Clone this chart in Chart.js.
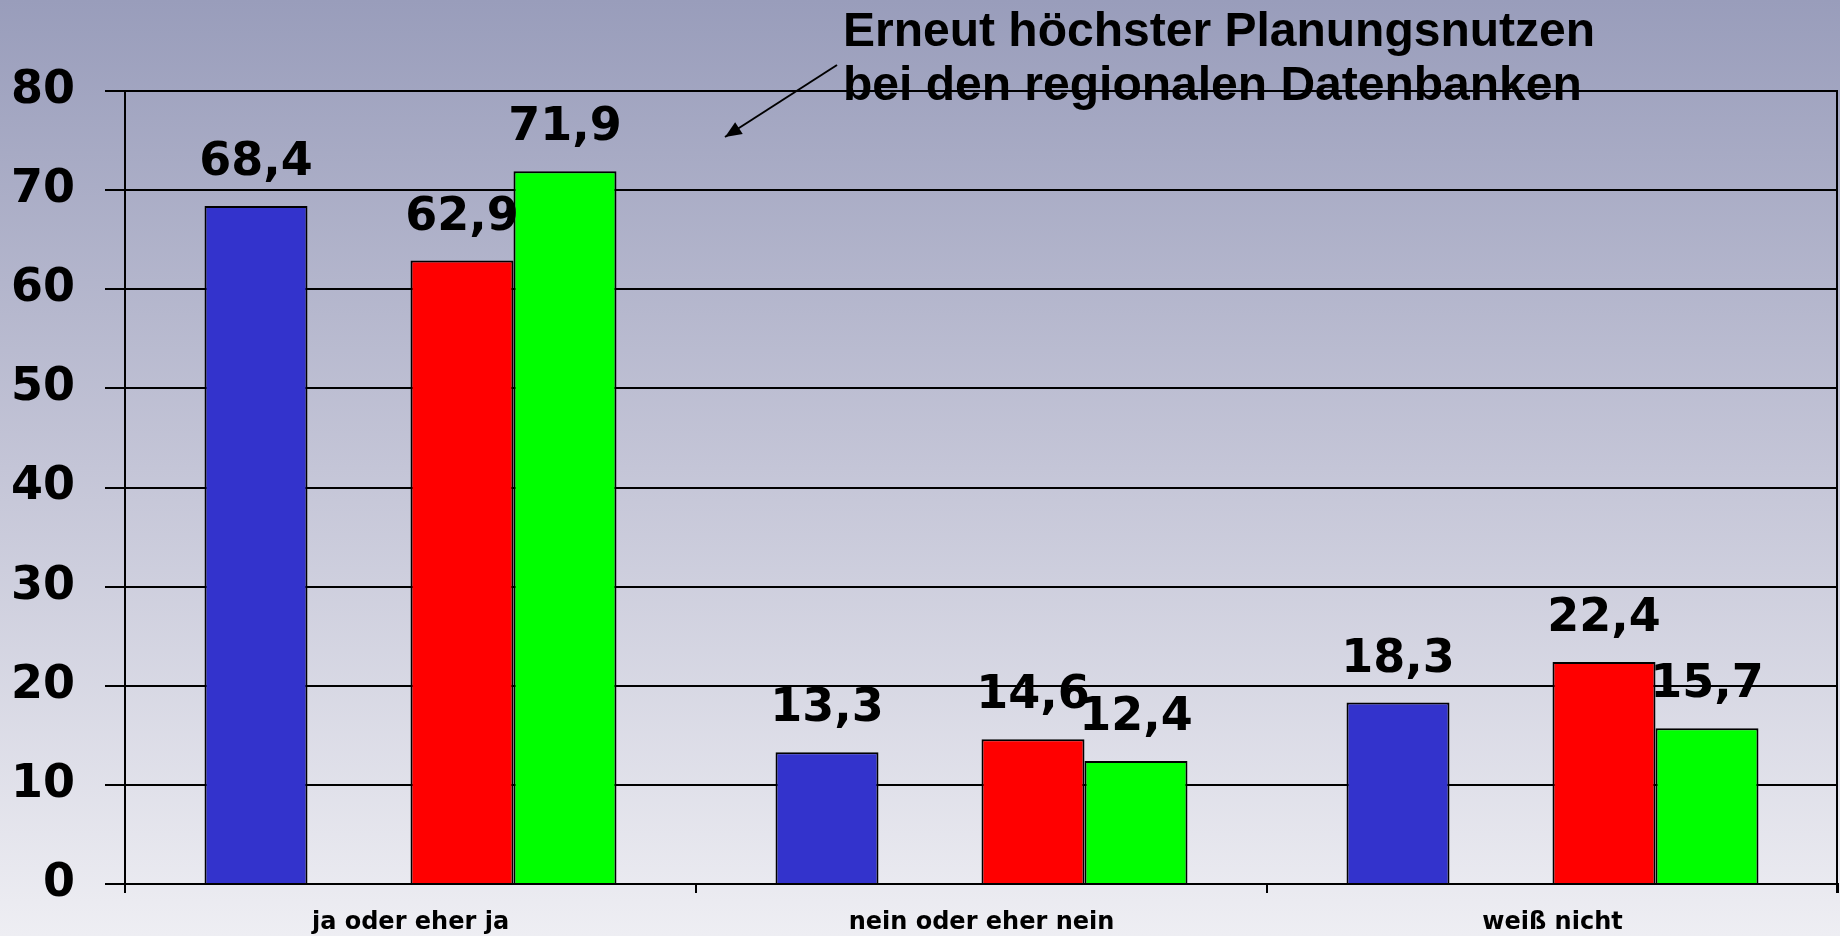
<!DOCTYPE html>
<html>
<head>
<meta charset="utf-8">
<title>Planungsnutzen</title>
<script src="https://cdn.jsdelivr.net/npm/chart.js@4"></script>
<style>
    html, body { margin: 0; padding: 0; background: #ededf2; }
    #wrap { width: 1840px; height: 936px; }
</style>
</head>
<body>
<div id="wrap"><canvas id="barChart" width="1840" height="936"></canvas></div>
<script>
const categories = ['ja oder eher ja', 'nein oder eher nein', 'weiß nicht'];
const seriesBlue = [68.4, 13.3, 18.3];
const seriesEmpty = [null, null, null];
const seriesRed = [62.9, 14.6, 22.4];
const seriesGreen = [71.9, 12.4, 15.7];
const yTicks = [0, 10, 20, 30, 40, 50, 60, 70, 80];
const noteLines = ['Erneut höchster Planungsnutzen', 'bei den regionalen Datenbanken'];

function formatValue(v) {
    return v.toFixed(1).replace('.', ',');
}

// background gradient behind everything
const backgroundPlugin = {
    id: 'background',
    beforeDraw(chart) {
        const ctx = chart.ctx;
        const g = ctx.createLinearGradient(0, 0, 0, chart.height);
        g.addColorStop(0, '#999dbb');
        g.addColorStop(0.5, '#c4c5d7');
        g.addColorStop(1, '#eeeef3');
        ctx.save();
        ctx.fillStyle = g;
        ctx.fillRect(0, 0, chart.width, chart.height);
        ctx.restore();
    }
};

// value labels above bars, right frame line, annotation with arrow
const labelsPlugin = {
    id: 'valueLabels',
    afterDatasetsDraw(chart) {
        const ctx = chart.ctx;
        const area = chart.chartArea;
        ctx.save();

        ctx.strokeStyle = '#000';
        ctx.lineWidth = 2;
        ctx.beginPath();
        ctx.moveTo(area.right - 1, area.top);
        ctx.lineTo(area.right - 1, area.bottom + 9);
        ctx.stroke();

        ctx.fillStyle = '#000';
        ctx.font = 'bold 46px "DejaVu Sans"';
        ctx.textAlign = 'center';
        ctx.textBaseline = 'alphabetic';
        chart.data.datasets.forEach((ds, i) => {
            const meta = chart.getDatasetMeta(i);
            meta.data.forEach((bar, j) => {
                const v = ds.data[j];
                if (v == null) return;
                ctx.fillText(formatValue(v), bar.x, bar.y - 31);
            });
        });

        ctx.font = 'bold 48px "Liberation Sans"';
        ctx.textAlign = 'left';
        ctx.fillText(noteLines[0], 843, 46);
        ctx.fillText(noteLines[1], 843, 100);

        // arrow
        const x1 = 837, y1 = 65, x2 = 725, y2 = 137;
        ctx.beginPath();
        ctx.moveTo(x1, y1);
        ctx.lineTo(x2, y2);
        ctx.stroke();
        const ang = Math.atan2(y2 - y1, x2 - x1);
        ctx.beginPath();
        ctx.moveTo(x2, y2);
        ctx.lineTo(x2 - 18 * Math.cos(ang - 0.4), y2 - 18 * Math.sin(ang - 0.4));
        ctx.lineTo(x2 - 18 * Math.cos(ang + 0.4), y2 - 18 * Math.sin(ang + 0.4));
        ctx.closePath();
        ctx.fill();

        ctx.restore();
    }
};

function renderChart() {
    const ctx = document.getElementById('barChart').getContext('2d');
    new Chart(ctx, {
        type: 'bar',
        data: {
            labels: categories,
            datasets: [
                { label: 'A', data: seriesBlue, backgroundColor: '#3333cc' },
                { label: '', data: seriesEmpty, backgroundColor: '#ffffff' },
                { label: 'B', data: seriesRed, backgroundColor: '#ff0000' },
                { label: 'C', data: seriesGreen, backgroundColor: '#00ff00' }
            ]
        },
        options: {
            responsive: false,
            animation: false,
            devicePixelRatio: 1,
            layout: { padding: { top: 91, right: 2, left: 0, bottom: 0 } },
            datasets: {
                bar: {
                    borderColor: '#000',
                    borderWidth: 2,
                    borderSkipped: 'bottom',
                    categoryPercentage: 0.7215,
                    barPercentage: 1
                }
            },
            plugins: {
                legend: { display: false },
                tooltip: { enabled: false }
            },
            scales: {
                x: {
                    grid: {
                        offset: true,
                        drawOnChartArea: false,
                        color: '#000',
                        lineWidth: 2,
                        tickLength: 9
                    },
                    border: { display: true, color: '#000', width: 2 },
                    ticks: {
                        color: '#000',
                        padding: 15,
                        maxRotation: 0,
                        font: { family: 'DejaVu Sans', weight: 'bold', size: 24 }
                    },
                    afterFit(scale) { scale.height = 52; }
                },
                y: {
                    min: 0,
                    max: 80,
                    afterBuildTicks(scale) {
                        scale.ticks = yTicks.map(v => ({ value: v }));
                    },
                    grid: {
                        color: '#000',
                        lineWidth: 2,
                        tickLength: 20
                    },
                    border: { display: true, color: '#000', width: 2 },
                    ticks: {
                        color: '#000',
                        padding: 30,
                        font: { family: 'DejaVu Sans', weight: 'bold', size: 46 }
                    },
                    afterFit(scale) {
                        scale.width = 125;
                        scale.paddingBottom = 20;
                    }
                }
            }
        },
        plugins: [backgroundPlugin, labelsPlugin]
    });
}

window.onload = renderChart;
</script>
</body>
</html>
